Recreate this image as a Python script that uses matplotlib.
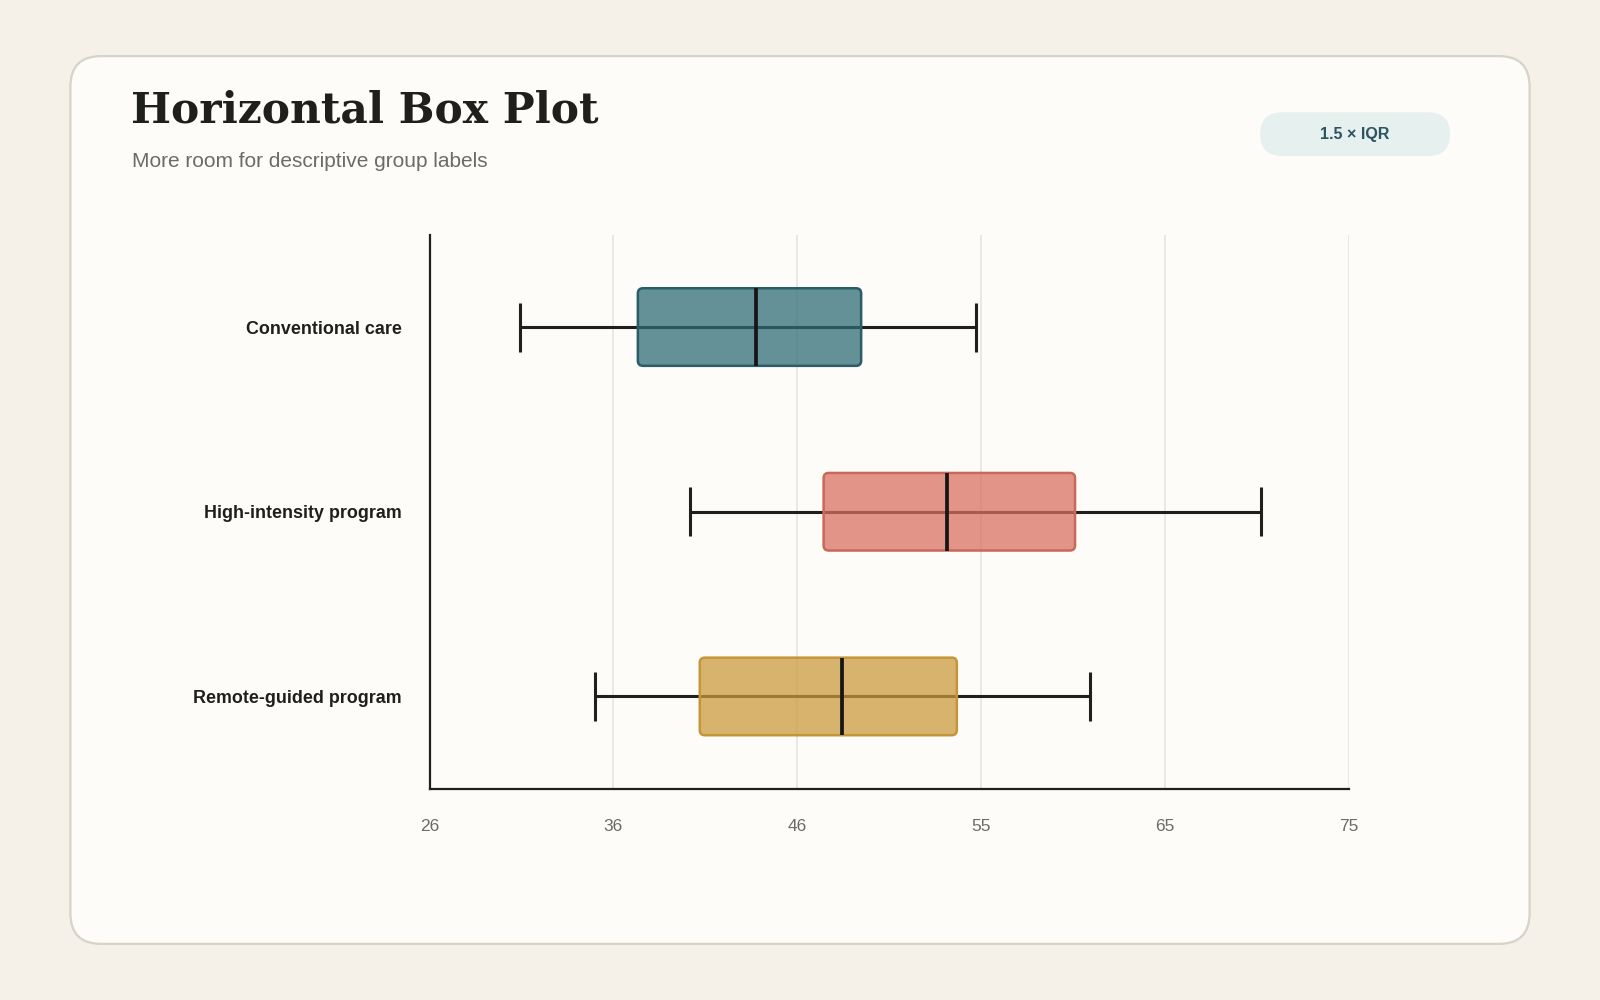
import matplotlib
matplotlib.use("Agg")
import matplotlib.pyplot as plt
from matplotlib.patches import FancyBboxPatch
import numpy as np

# ---- data ----
groups = ["Conventional care", "High-intensity program", "Remote-guided program"]
whislo = [30.8, 39.9, 34.8]
q1 = [37.1, 47.0, 40.4]
median = [43.4, 53.6, 48.0]
q3 = [49.0, 60.4, 54.1]
whishi = [55.1, 70.3, 61.2]
x_limits = [26, 75]
tick_labels = ["26", "36", "46", "55", "65", "75"]

title = "Horizontal Box Plot"
subtitle = "More room for descriptive group labels"
badge = "1.5 × IQR"

fills = ["#2f6b75", "#d8705f", "#cc9a3c"]
edges = ["#2a5d66", "#c8695a", "#c4963a"]

# ---- layout helpers (reference grid 1568x980) ----
W, H = 1568, 980
def fx(px):
    return px / W
def fy(py):
    return 1 - py / H

fig = plt.figure(figsize=(16, 10), dpi=100, facecolor="#f5f0e8")

card = FancyBboxPatch((fx(69), fy(925)), 1430 / W, 870 / H,
                      boxstyle=f"round,pad=0,rounding_size={30 / W}",
                      mutation_aspect=W / H, transform=fig.transFigure,
                      fc="#fdfcf9", ec="#d8d3c8", lw=1.6, zorder=-10)
fig.patches.append(card)

fig.text(fx(128), fy(108), title, fontsize=30.5, fontweight="bold",
         family="DejaVu Serif", color="#1f1f1c", va="center", ha="left")
fig.text(fx(129), fy(158), subtitle, fontsize=15, family="Liberation Sans",
         color="#6b6b68", va="center", ha="left")

pill = FancyBboxPatch((fx(1235), fy(153)), 186 / W, 43 / H,
                      boxstyle=f"round,pad=0,rounding_size={21.5 / W}",
                      mutation_aspect=W / H, transform=fig.transFigure,
                      fc="#e6f0ee", ec="none", zorder=-5)
fig.patches.append(pill)
fig.text(fx(1328), fy(132), badge, fontsize=11.5, fontweight="bold",
         family="Liberation Sans", color="#2b5560", va="center", ha="center")

ax = fig.add_axes([fx(421), fy(773), (1322 - 421) / W, (773 - 230) / H])
ax.set_facecolor("none")
ax.set_zorder(2)
ax.set_xlim(*x_limits)
ax.set_ylim(len(groups) - 0.5, -0.5)

ticks = np.linspace(x_limits[0], x_limits[1], len(tick_labels))
ax.set_xticks(ticks)
ax.set_xticklabels(tick_labels)
for t in ticks:
    ax.axvline(t, color="#e7e4de", lw=1.2, zorder=0)

ypos = np.arange(len(groups))
ax.set_yticks(ypos)
ax.set_yticklabels(groups)

ax.tick_params(axis="x", length=0, pad=22, labelsize=12.5, labelcolor="#6b6b68")
ax.tick_params(axis="y", length=0, pad=20, labelsize=12.9, labelcolor="#1f1f1c")
for lab in ax.get_yticklabels():
    lab.set_fontweight("bold")
    lab.set_family("Liberation Sans")
for lab in ax.get_xticklabels():
    lab.set_family("Liberation Sans")

for s in ["top", "right"]:
    ax.spines[s].set_visible(False)
for s in ["left", "bottom"]:
    ax.spines[s].set_color("#1f1f1c")
    ax.spines[s].set_linewidth(1.6)

box_h = 0.42
cap_h = 0.265
ux = (x_limits[1] - x_limits[0]) / 901
uy = len(groups) / 543
for i, y in enumerate(ypos):
    ax.hlines(y, whislo[i], whishi[i], color="#1f1f1c", lw=2.2, zorder=2)
    ax.vlines([whislo[i], whishi[i]], y - cap_h / 2, y + cap_h / 2,
              color="#1f1f1c", lw=2.2, zorder=2)
    rect = FancyBboxPatch((q1[i], y - box_h / 2), q3[i] - q1[i], box_h,
                          boxstyle=f"round,pad=0,rounding_size={5 * ux}",
                          mutation_aspect=uy / ux,
                          ec=edges[i], lw=1.8, zorder=3)
    rect.set_facecolor(matplotlib.colors.to_rgba(fills[i], 0.74))
    ax.add_patch(rect)
    ax.vlines(median[i], y - box_h / 2, y + box_h / 2, color="#161616",
              lw=2.7, zorder=4)

fig.savefig("out.png", dpi=100, facecolor=fig.get_facecolor())
